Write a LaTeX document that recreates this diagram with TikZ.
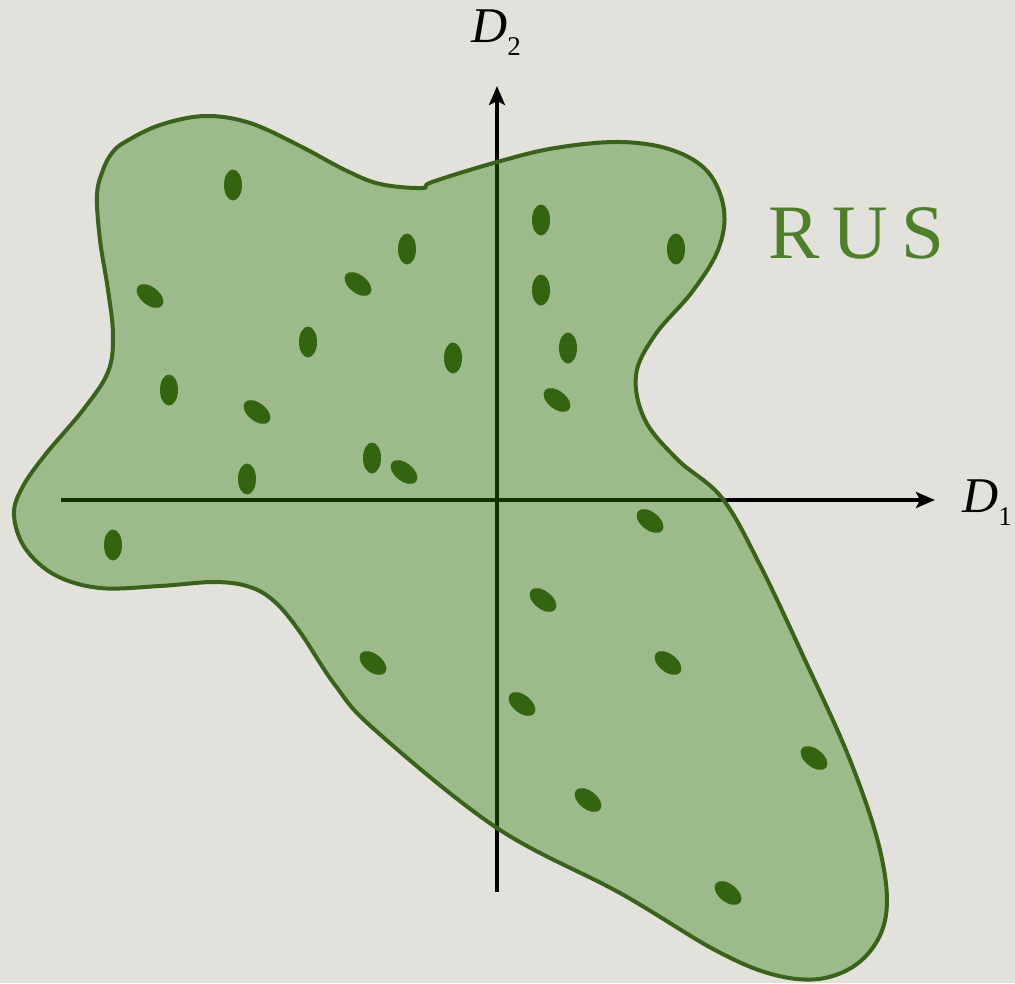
\documentclass[tikz,border=0pt]{standalone}
\usepackage{fontspec}
\setmainfont{Liberation Serif}
\usetikzlibrary{arrows.meta}
\definecolor{paper}{RGB}{227,225,220}
\definecolor{rusfill}{RGB}{45,125,5}
\definecolor{rusline}{RGB}{58,98,26}
\definecolor{rusdot}{RGB}{52,100,16}
\definecolor{rustext}{RGB}{78,128,42}

\begin{document}
\begin{tikzpicture}[x=1pt, y=-1pt,
  axis/.style={line width=3.4pt, -{Stealth[length=19pt, width=16pt, inset=4pt]}},
  grain/.style={fill=rusdot},
  label/.style={inner sep=0pt, anchor=base west}]
  \fill[paper] (0,0) rectangle (1015,983);
  \useasboundingbox (0,0) rectangle (1015,983);
  \coordinate (xl) at (61,500);
  \coordinate (xr) at (935,500);
  \coordinate (yb) at (497,892);
  \coordinate (yt) at (497,86);
  \draw[axis] (xl) -- (xr);
  \draw[axis] (yb) -- (yt);
  \node[label, font=\fontsize{50}{50}\selectfont] (d2) at (471,42)
    {\textit{D}\raisebox{-13pt}{\fontsize{27}{27}\selectfont 2}};
  \node[label, font=\fontsize{50}{50}\selectfont] (d1) at (962,512)
    {\textit{D}\raisebox{-13pt}{\fontsize{27}{27}\selectfont 1}};
  \filldraw[fill=rusfill, fill opacity=0.38, draw=rusline, line width=4pt]
    plot[smooth cycle, tension=0.6] coordinates {
      (125,142) (160,125) (205,116) (250,123) (300,146) (345,170)
      (380,184) (422,188) (432,182) (497,162) (555,148) (620,142)
      (672,150) (708,172) (724,210) (718,250) (692,292) (655,335)
      (636,375) (645,420) (678,460) (722,498) (760,565) (805,660)
      (850,760) (880,850) (886,915) (865,957) (825,978) (775,975)
      (715,950) (620,893) (497,828) (375,730)
      (335,685) (300,632) (275,602) (250,587) (215,582) (160,586)
      (100,588) (55,575) (25,548) (14,515) (22,488) (45,455)
      (83,410) (108,372) (113,335) (108,290) (100,240) (97,195)
      (103,170) (112,153)};
  \foreach \p in {(233,185), (541,220), (407,249), (676,249), (541,290),
                  (308,342), (453,358), (568,348), (169,390), (372,458),
                  (247,479), (113,545)}
    \fill[grain] \p ellipse [x radius=9, y radius=15.5];
  \foreach \p in {(150,296), (358,284), (257,412), (557,400), (404,472),
                  (650,521), (543,600), (373,663), (668,663), (522,704),
                  (814,758), (588,800), (728,893)}
    \fill[grain, shift={\p}, rotate=52] (0,0) ellipse [x radius=9, y radius=15.5];
  \node[label, text=rustext, font=\fontsize{77}{77}\selectfont] (rus) at (768,258)
    {R\kern13pt U\kern13pt S};
\end{tikzpicture}
\end{document}
